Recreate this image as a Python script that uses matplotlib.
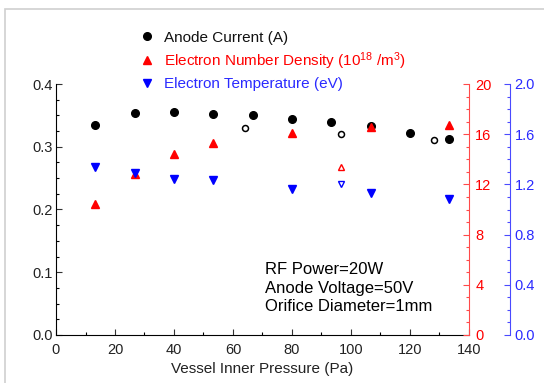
"""
Anode current, electron density and temperature vs vessel pressure
"""

import matplotlib
matplotlib.use("Agg")
import matplotlib.pyplot as plt
from matplotlib.patches import Rectangle
from matplotlib.ticker import MultipleLocator

plt.rcParams["font.family"] = ["Liberation Sans", "DejaVu Sans"]
plt.rcParams["mathtext.fontset"] = "custom"
plt.rcParams["mathtext.rm"] = "Liberation Sans"
plt.rcParams["mathtext.it"] = "Liberation Sans"

# anode current (A), filled points
current_x = [13.3, 26.7, 40, 53.3, 66.7, 80, 93.3, 106.7, 120, 133.3]
current_y = [0.335, 0.354, 0.355, 0.352, 0.350, 0.345, 0.340, 0.333, 0.322, 0.312]
# anode current, open points
current_open_x = [64, 96.7, 128]
current_open_y = [0.330, 0.320, 0.311]

# electron number density (1e18 /m3)
density_x = [13.3, 26.7, 40, 53.3, 80, 106.7, 133.3]
density_y = [10.4, 12.8, 14.4, 15.3, 16.1, 16.6, 16.7]
density_open_x = [96.7]
density_open_y = [13.4]

# electron temperature (eV)
temp_x = [13.3, 26.7, 40, 53.3, 80, 106.7, 133.3]
temp_y = [1.34, 1.29, 1.245, 1.235, 1.165, 1.135, 1.08]
temp_open_x = [96.7]
temp_open_y = [1.20]

RED = "#ff0000"
RED_AX = "#ff4a4a"
BLUE = "#0000ff"
BLUE_AX = "#4a4aff"
TXT = "#222222"

fig = plt.figure(figsize=(5.44, 3.83), dpi=100)
ax = fig.add_axes([56 / 544, 48 / 383, 413 / 544, 251 / 383])
ax2 = ax.twinx()
ax3 = ax.twinx()
ax3.spines["right"].set_position(("axes", 1.1))

h1, = ax.plot(current_x, current_y, "o", color="black", ms=5.5, ls="none",
              label="Anode Current (A)")
ax.plot(current_open_x, current_open_y, "o", mfc="none", mec="black",
        ms=4.3, mew=1.1, ls="none")

h2, = ax2.plot(density_x, density_y, "^", color=RED, ms=6, ls="none",
               label="Electron Number Density (10$^{18}$ /m$^{3}$)")
ax2.plot(density_open_x, density_open_y, "^", mfc="none", mec=RED,
         ms=5, mew=1.0, ls="none")

h3, = ax3.plot(temp_x, temp_y, "v", color=BLUE, ms=6, ls="none",
               label="Electron Temperature (eV)")
ax3.plot(temp_open_x, temp_open_y, "v", mfc="none", mec=BLUE,
         ms=5, mew=1.0, ls="none")

ax.set_xlim(0, 140)
ax.set_ylim(0, 0.4)
ax2.set_ylim(0, 20)
ax3.set_ylim(0, 2.0)

ax.xaxis.set_major_locator(MultipleLocator(20))
ax.xaxis.set_minor_locator(MultipleLocator(10))
ax.yaxis.set_major_locator(MultipleLocator(0.1))
ax.yaxis.set_minor_locator(MultipleLocator(0.025))
ax2.yaxis.set_major_locator(MultipleLocator(4))
ax2.yaxis.set_minor_locator(MultipleLocator(1))
ax3.yaxis.set_major_locator(MultipleLocator(0.4))
ax3.yaxis.set_minor_locator(MultipleLocator(0.1))
ax.yaxis.set_major_formatter(plt.FormatStrFormatter("%.1f"))
ax3.yaxis.set_major_formatter(plt.FormatStrFormatter("%.1f"))

for a in (ax, ax2, ax3):
    a.spines["top"].set_visible(False)
    a.tick_params(which="both", direction="in")
    a.tick_params(which="major", length=4, width=0.8, labelsize=10.5)
    a.tick_params(which="minor", length=2.5, width=0.8)
ax.spines["right"].set_visible(False)
for a in (ax2, ax3):
    a.spines["left"].set_visible(False)
    a.spines["bottom"].set_visible(False)
ax.tick_params(colors="#333333", labelcolor=TXT)
ax.tick_params(axis="x", pad=5.5)
ax.tick_params(axis="y", pad=2)
ax2.spines["right"].set_color(RED_AX)
ax2.tick_params(which="both", colors=RED_AX, labelcolor=RED, pad=4.5)
ax3.spines["right"].set_color(BLUE_AX)
ax3.tick_params(which="both", colors=BLUE_AX, labelcolor="#2a2aff", pad=3)

ax.set_xlabel("Vessel Inner Pressure (Pa)", fontsize=11, color=TXT, labelpad=4)

leg = ax.legend(handles=[h1, h2, h3], loc="upper left", frameon=False,
                bbox_to_anchor=(130 / 544, 1 - 23 / 383),
                bbox_transform=fig.transFigure, fontsize=11,
                handletextpad=0.55, labelspacing=0.35, borderpad=0,
                handlelength=1.2)
for text, col in zip(leg.get_texts(), ["#111111", RED, "#2a2aff"]):
    text.set_color(col)

ax.text(265 / 544, 1 - 288 / 383,
        "RF Power=20W\nAnode Voltage=50V\nOrifice Diameter=1mm",
        transform=fig.transFigure, fontsize=12, color="black",
        va="center", ha="left", linespacing=1.3)

fig.patches.append(Rectangle((5 / 544, -0.1), 2, 1 - 9 / 383 + 0.1,
                             transform=fig.transFigure, fill=False,
                             edgecolor="#cfcfcf", lw=1.2))

fig.savefig("out.png", dpi=100)
plt.close(fig)
